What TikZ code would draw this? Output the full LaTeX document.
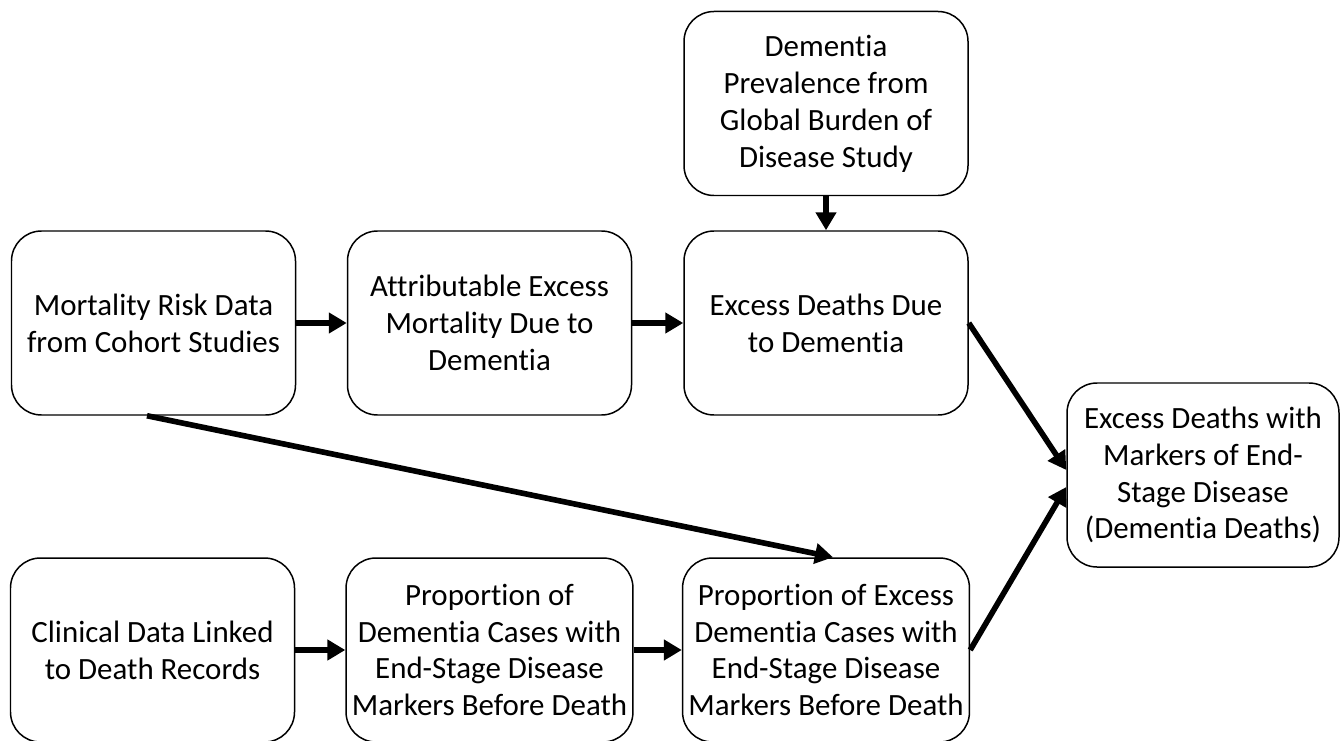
\documentclass[tikz,border=0pt]{standalone}
\usepackage{fontspec}
\setmainfont{Carlito}[Ligatures=NoCommon]
\usepackage{tikz}
\usetikzlibrary{arrows.meta}
\tikzset{
	stage/.style={
		draw,
		rounded corners=0.6cm,
		line width=0.85pt,
		minimum width=5.68cm,
		minimum height=3.68cm,
		align=center,
		font=\fontsize{17.6pt}{21pt}\selectfont
	},
	flow/.style={
		line width=3.2pt,
		-{Triangle[length=0.36cm,width=0.4cm]}
	}
}
\begin{document}
\begin{tikzpicture}
	\useasboundingbox (0,0) rectangle (26.8,14.8);

	% sources and steps
	\node[stage] (mort) at (3.07,8.34) {Mortality Risk Data\\from Cohort Studies};
	\node[stage] (attr) at (9.79,8.34) {Attributable Excess\\Mortality Due to\\Dementia};
	\node[stage] (exc) at (16.52,8.34) {Excess Deaths Due\\to Dementia};
	\node[stage] (prev) at (16.52,12.73) {Dementia\\Prevalence from\\Global Burden of\\Disease Study};
	\node[stage] (clin) at (3.05,1.8) {Clinical Data Linked\\to Death Records};
	\node[stage] (prop) at (9.79,1.8) {Proportion of\\Dementia Cases with\\End-Stage Disease\\Markers Before Death};
	\node[stage] (propx) at (16.52,1.8) {Proportion of Excess\\Dementia Cases with\\End-Stage Disease\\Markers Before Death};
	\node[stage,minimum width=5.44cm] (final) at (24.06,5.3) {Excess Deaths with\\Markers of End-\\Stage Disease\\(Dementia Deaths)};

	% arrows
	\draw[flow] (mort) -- (attr);
	\draw[flow] (attr) -- (exc);
	\draw[flow] (prev) -- (exc);
	\draw[flow] (clin) -- (prop);
	\draw[flow] (prop) -- (propx);
	\draw[flow] ([xshift=-0.13cm]mort.south) -- ([xshift=0.14cm]propx.north);
	\draw[flow] (exc.east) -- ([yshift=0.1cm]final.west);
	\draw[flow] (propx.east) -- ([yshift=-0.24cm]final.west);
\end{tikzpicture}
\end{document}
